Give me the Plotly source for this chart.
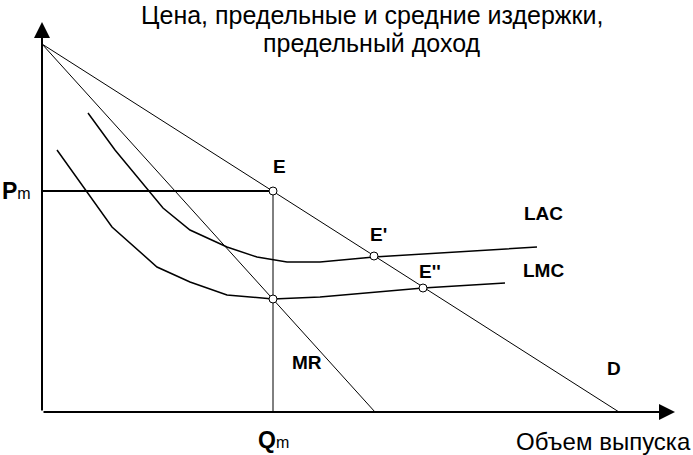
import plotly.graph_objects as go

# chart units: quantity Q along x, price P along y (origin at the axes corner)
d_q = [0, 577]
d_p = [368, 0]
mr_q = [0, 333]
mr_p = [368, 0]
lac_q = [46, 73, 121, 148, 185, 215, 245, 278, 332, 495]
lac_p = [299, 262, 204, 182, 165, 155, 150, 150, 155, 165]
lmc_q = [15, 70, 115, 148, 185, 231, 278, 381, 463]
lmc_p = [262, 185, 145, 130, 117, 113, 115, 124, 129]
q_m = 231
p_m = 221
eq_q = [231, 332, 381, 231]
eq_p = [221, 156, 124, 113]
axis_q_max = 633
axis_p_max = 390

FONT = "Liberation Sans, Arial, sans-serif"

fig = go.Figure()

# Pm and Qm guide lines
fig.add_trace(go.Scatter(x=[0, q_m], y=[p_m, p_m], mode="lines",
                         line=dict(color="black", width=2), hoverinfo="skip"))
fig.add_trace(go.Scatter(x=[q_m, q_m], y=[0, p_m], mode="lines",
                         line=dict(color="black", width=1), hoverinfo="skip"))
# demand and marginal revenue
fig.add_trace(go.Scatter(x=d_q, y=d_p, mode="lines", line=dict(color="black", width=1)))
fig.add_trace(go.Scatter(x=mr_q, y=mr_p, mode="lines", line=dict(color="black", width=1)))
# cost curves
fig.add_trace(go.Scatter(x=lac_q, y=lac_p, mode="lines", line=dict(color="black", width=1.5)))
fig.add_trace(go.Scatter(x=lmc_q, y=lmc_p, mode="lines", line=dict(color="black", width=1.5)))
# equilibrium points
fig.add_trace(go.Scatter(x=eq_q, y=eq_p, mode="markers",
                         marker=dict(symbol="circle", size=8, color="white",
                                     line=dict(color="black", width=1))))

# axes with arrows
for ax_x, ax_y in [(axis_q_max, 0), (0, axis_p_max)]:
    fig.add_annotation(x=ax_x, y=ax_y, ax=0, ay=0, xref="x", yref="y", axref="x", ayref="y",
                       showarrow=True, arrowhead=2, arrowsize=1.6, arrowwidth=2,
                       arrowcolor="black", text="")

labels = [
    ("<b>E</b>", 237, 246),
    ("<b>E'</b>", 336, 178),
    ("<b>E''</b>", 388, 141),
    ("<b>LAC</b>", 501, 199),
    ("<b>LMC</b>", 501, 142),
    ("<b>MR</b>", 265, 50),
    ("<b>D</b>", 572, 44),
]
for txt, lx, ly in labels:
    fig.add_annotation(x=lx, y=ly, text=txt, showarrow=False,
                       font=dict(family=FONT, size=19, color="black"))

fig.add_annotation(x=-42, y=p_m, text="<b>P</b><span style='font-size:16px'>m</span>",
                   xanchor="left", showarrow=False,
                   font=dict(family=FONT, size=23, color="black"))
fig.add_annotation(x=q_m, y=-28, text="<b>Q</b><span style='font-size:16px'>m</span>",
                   showarrow=False, font=dict(family=FONT, size=23, color="black"))
fig.add_annotation(x=1, y=-29, xref="paper", text="Объем выпуска", xanchor="right",
                   showarrow=False, font=dict(family=FONT, size=24, color="black"))

fig.add_annotation(x=372 / 693, y=1 - 15 / 455, xref="paper", yref="paper",
                   xanchor="center", yanchor="middle",
                   text="Цена, предельные и средние издержки,", showarrow=False,
                   font=dict(family=FONT, size=25, color="black"))
fig.add_annotation(x=372 / 693, y=1 - 43 / 455, xref="paper", yref="paper",
                   xanchor="center", yanchor="middle",
                   text="предельный доход", showarrow=False,
                   font=dict(family=FONT, size=25, color="black"))

fig.update_layout(width=693, height=455, margin=dict(l=0, r=0, t=0, b=0),
                  plot_bgcolor="white", paper_bgcolor="white", showlegend=False)
fig.update_xaxes(range=[-42, 651], visible=False)
fig.update_yaxes(range=[-43, 412], visible=False)

# drop the default page margin so the figure sits at the window corner
fig.write_html("out.html", config={"displayModeBar": False},
               post_script="document.body.style.margin='0';")
